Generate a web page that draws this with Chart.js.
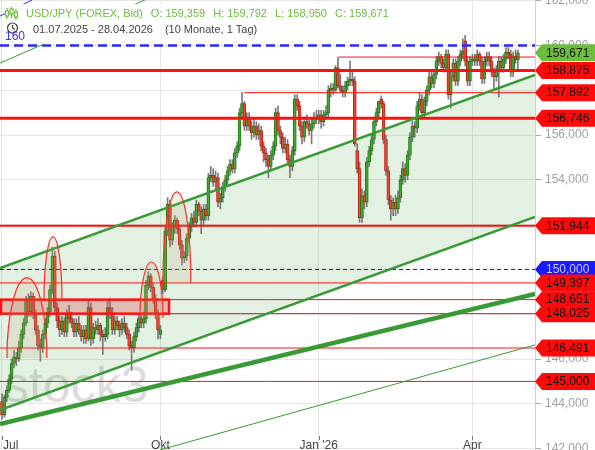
<!DOCTYPE html>
<html><head><meta charset="utf-8">
<script src="https://cdn.jsdelivr.net/npm/chart.js@4/dist/chart.umd.min.js"></script>
<style>html,body{margin:0;padding:0;background:#fff;overflow:hidden}#wrap{width:595px;height:450px;position:relative}</style>
</head><body><div id="wrap"><canvas id="c" width="595" height="450"></canvas></div>
<script>
// ---------- DATA ----------
const monthLabels = ['Jul', 'Okt', "Jan '26", 'Apr'];
const monthIdx = [0, 66, 132, 196];          // weekday index of first trading day of month
const yTicks = [142, 144, 146, 148, 150, 152, 154, 156, 158, 160, 162];

const open = [144.10,143.50,144.30,144.60,145.10,145.80,146.10,146.00,146.50,147.10,147.60,148.60,148.10,148.80,148.00,147.30,146.60,146.50,147.10,147.60,148.10,149.10,150.60,148.30,147.70,147.30,147.70,147.20,148.00,147.80,
147.60,147.20,147.60,147.30,147.00,147.30,146.90,148.30,146.90,147.40,147.30,147.50,147.10,147.00,147.10,148.30,148.00,147.30,147.70,147.50,147.30,147.60,147.40,147.10,146.60,146.50,147.00,147.40,147.80,147.60,
147.80,149.30,149.70,149.20,148.70,148.00,147.10,149.50,149.10,151.70,152.90,151.30,151.90,152.20,151.80,151.10,150.50,150.60,151.40,151.90,152.30,152.10,152.90,152.60,152.20,152.70,152.40,154.10,154.20,153.90,
154.10,153.00,153.20,153.70,154.00,154.40,154.70,154.50,155.20,155.50,157.00,157.40,156.40,156.80,156.40,156.10,156.40,156.00,156.20,155.50,155.20,154.90,154.60,155.10,155.50,157.00,156.20,155.90,155.40,155.60,
154.90,154.60,155.30,157.60,157.30,156.40,155.90,156.60,156.50,156.20,156.50,156.80,156.70,156.90,156.60,156.90,157.00,158.00,158.10,158.00,159.00,158.20,158.00,157.90,158.20,158.40,158.50,158.40,155.30,154.50,
152.30,153.30,153.00,154.80,155.30,155.80,156.60,157.00,157.60,157.40,155.80,154.40,153.10,152.70,153.00,152.70,153.20,154.00,154.50,154.20,155.10,155.90,156.40,156.30,157.30,157.60,157.00,157.50,158.00,158.60,
158.30,158.70,159.30,159.50,159.20,159.00,159.60,157.80,158.60,159.20,158.40,159.30,159.60,160.20,159.30,158.40,159.30,159.40,159.30,159.60,159.30,158.50,159.30,159.50,159.30,158.80,158.60,158.90,159.30,159.00,
159.40,159.70,159.60,158.80,159.50,159.359];
const high = [144.45,144.40,144.80,145.30,146.00,146.40,146.30,146.80,147.30,147.80,148.80,148.90,149.00,148.95,148.20,147.50,146.90,147.30,147.80,148.30,149.30,151.00,150.80,148.50,147.90,147.90,147.85,148.20,148.40,148.10,
147.80,147.80,147.90,147.50,147.50,147.50,148.60,148.50,147.60,147.70,147.80,147.60,147.30,147.40,148.60,148.70,148.30,147.90,147.90,147.70,147.80,147.90,147.60,147.30,146.80,147.20,147.60,148.00,148.00,148.10,
149.50,149.90,149.80,149.40,148.90,148.20,147.50,149.70,151.90,153.20,153.10,152.10,152.40,152.30,152.00,151.30,150.80,151.60,152.10,152.50,152.60,153.10,153.00,152.80,152.90,152.90,154.30,154.60,154.50,154.40,
154.30,153.40,153.90,154.20,154.60,154.90,154.90,155.40,155.70,157.20,157.90,157.50,157.00,157.00,156.60,156.70,156.60,156.50,156.40,155.70,155.40,155.10,155.30,155.70,157.20,157.30,156.40,156.10,155.90,155.80,
155.10,155.50,157.80,157.80,157.50,156.60,156.80,156.90,156.70,156.70,157.00,157.10,157.10,157.10,157.10,157.30,158.20,158.30,158.30,159.10,159.48,158.70,158.20,158.40,158.60,159.30,158.80,158.60,155.60,154.80,
153.60,153.50,155.00,155.50,156.00,156.80,157.20,157.50,157.75,157.50,156.00,154.60,153.30,153.20,153.30,153.50,154.20,154.80,154.70,155.30,156.10,156.60,156.60,157.50,157.90,157.80,157.70,158.20,158.80,158.90,
158.90,159.50,159.70,159.60,159.40,159.80,159.80,158.80,159.40,159.40,159.50,159.80,160.30,160.45,159.50,159.50,159.60,159.60,159.80,159.70,159.50,159.50,159.70,159.70,159.50,159.00,159.10,159.50,159.50,159.60,
159.90,159.90,159.80,159.70,159.80,159.792];
const low = [143.30,143.40,144.10,144.50,144.90,145.60,145.70,145.90,146.30,146.90,147.50,147.90,147.90,147.80,147.10,146.40,145.90,146.30,146.90,147.40,147.90,148.90,148.10,147.40,147.00,147.10,147.00,147.00,147.60,147.40,
147.00,147.00,147.10,146.80,146.70,146.70,146.80,146.60,146.70,147.10,147.10,146.80,146.20,146.80,146.90,147.80,147.10,147.10,147.30,147.00,147.10,147.20,146.90,146.40,145.50,146.30,146.80,147.20,147.40,147.40,
147.60,149.10,149.00,148.50,147.80,146.90,146.90,148.90,149.00,151.50,151.00,151.10,151.60,151.60,150.90,150.20,150.30,150.40,151.20,151.70,151.90,151.90,152.40,151.60,152.00,152.20,152.20,153.90,153.70,153.60,
152.80,152.70,153.00,153.50,153.80,154.20,154.30,154.30,155.00,155.30,156.80,156.20,156.20,156.20,155.80,155.90,155.80,155.80,155.30,154.80,154.60,154.10,154.40,154.90,155.30,156.00,155.60,155.20,155.20,154.70,
154.10,154.40,155.10,157.10,156.20,155.60,155.70,156.30,156.00,155.60,156.30,156.50,156.50,156.30,156.40,156.70,156.80,157.70,157.80,157.90,158.10,157.90,157.70,157.70,158.00,158.20,158.20,155.50,154.30,152.10,
152.10,152.70,152.80,154.60,155.10,155.60,156.40,156.80,157.20,155.60,154.20,152.90,152.20,152.40,152.40,152.50,153.00,153.80,153.90,154.00,154.90,155.70,155.90,156.10,157.10,156.80,156.80,157.30,157.80,158.10,
158.10,158.50,159.10,159.00,158.80,158.90,157.60,157.20,158.40,158.20,158.20,159.10,159.40,159.10,158.20,158.20,159.10,159.10,159.10,159.10,158.30,158.30,159.10,159.10,158.60,158.00,158.40,157.70,158.80,158.80,
159.20,159.40,158.60,158.60,159.20,158.950];
const close = [143.50,144.30,144.60,145.10,145.80,146.10,146.00,146.50,147.10,147.60,148.60,148.10,148.80,148.00,147.30,146.60,146.50,147.10,147.60,148.10,149.10,150.60,148.30,147.70,147.30,147.70,147.20,148.00,147.80,147.60,
147.20,147.60,147.30,147.00,147.30,146.90,148.30,146.90,147.40,147.30,147.50,147.10,147.00,147.10,148.30,148.00,147.30,147.70,147.50,147.30,147.60,147.40,147.10,146.60,146.50,147.00,147.40,147.80,147.60,147.80,
149.30,149.70,149.20,148.70,148.00,147.30,147.30,149.10,151.70,152.90,151.30,151.90,152.20,151.80,151.10,150.50,150.60,151.40,151.90,152.30,152.10,152.90,152.60,152.20,152.70,152.40,154.10,154.20,153.90,154.10,
153.00,153.20,153.70,154.00,154.40,154.70,154.50,155.20,155.50,157.00,157.40,156.40,156.80,156.40,156.10,156.40,156.00,156.20,155.50,155.20,154.90,154.60,155.10,155.50,157.00,156.20,155.90,155.40,155.60,154.90,
154.60,155.30,157.60,157.30,156.40,155.90,156.60,156.50,156.20,156.50,156.80,156.70,156.90,156.60,156.90,157.00,158.00,158.10,158.00,159.00,158.20,158.00,157.90,158.20,158.40,158.50,158.40,155.60,154.50,152.30,
153.30,153.00,154.80,155.30,155.80,156.60,157.00,157.50,157.40,155.80,154.40,153.10,152.70,153.00,152.70,153.20,154.00,154.50,154.20,155.10,155.90,156.40,156.30,157.30,157.60,157.00,157.50,158.00,158.60,158.30,
158.70,159.30,159.50,159.20,159.00,159.60,157.80,158.60,159.20,158.40,159.30,159.60,159.75,159.30,158.40,159.30,159.40,159.30,159.60,159.30,158.50,159.30,159.50,159.30,158.80,158.60,158.90,159.30,159.00,159.40,
159.70,159.60,158.80,159.50,159.36,159.671];

// horizontal support / resistance levels
const redLevels = [158.875, 156.746, 151.944, 149.397, 148.651, 148.025, 146.491, 145.000, 157.892, 159.48];
const redLevelStart = [null, null, null, null, null, null, null, null, 101, 140.4];   // index where a level begins (null = whole width)
const redLevelWidth = [3, 3, 2, 1, 1, 1, 1, 1, 1, 1];
const blueLevels = [160.000, 150.000];
const lastPrice = 159.671;
const tagLevels = [158.875, 157.892, 156.746, 151.944, 150.000, 149.397, 148.651, 148.025, 146.491, 145.000];

// trend lines: [x0, price0, x1, price1]
const channelUpper = [-0.83, 150.06, 222.1, 158.68];
const channelLower = [-0.83, 143.72, 222.1, 152.34];
const longTrend = [-0.83, 143.10, 222.1, 148.90];
const thinTrend = [65.8, 141.94, 222.1, 146.63];
const topGreenTrend = [-0.83, 159.21, 59.6, 162.03];
const topBlueTrend = [-0.83, 161.31, 12.5, 162.03];

// arcs: [centerIdx, basePrice, halfWidthIdx, peakPrice]
const arcs = [[10.4, 146.05, 8.33, 149.62], [21.25, 148.63, 3.75, 151.45], [62.3, 147.83, 4.8, 150.33], [72.9, 149.39, 5.83, 153.46]];
// box zone: [x0, x1, lowPrice, highPrice]
const zone = [-0.83, 69.6, 148.025, 148.651];

const X_MIN = -0.83, X_MAX = 222.1, Y_MIN = 141.938, Y_MAX = 162.027;

// ---------- BUILD ----------
const FONT = '"Liberation Sans", Arial, sans-serif';
const fmt = v => v.toFixed(3).replace('.', ',');
const seg = a => [{x: a[0], y: a[1]}, {x: a[2], y: a[3]}];
const idx = open.map((_, i) => i);
const up = idx.map(i => close[i] >= open[i]);

const datasets = [];
datasets.push({type: 'line', data: seg(channelUpper), borderWidth: 0, pointRadius: 0, fill: 1,
  backgroundColor: 'rgba(70,160,70,0.15)', order: 100});
datasets.push({type: 'line', data: seg(channelLower), borderWidth: 0, pointRadius: 0, fill: false, order: 99});
datasets.push({type: 'bar', data: idx.map(i => ({x: i, y: [low[i], high[i]]})), backgroundColor: '#7a7a7a',
  barThickness: 1, grouped: false, order: 40});
datasets.push({type: 'bar', data: idx.map(i => ({x: i, y: [open[i], close[i]]})),
  backgroundColor: idx.map(i => up[i] ? '#46a832' : '#ea4a32'),
  borderColor: idx.map(i => up[i] ? '#1f7a18' : '#b3261a'),
  borderWidth: 1, borderSkipped: false, barThickness: 3, grouped: false, order: 39});
redLevels.forEach((v, k) => {
  datasets.push({type: 'line', data: [{x: redLevelStart[k] === null ? X_MIN : redLevelStart[k], y: v}, {x: X_MAX, y: v}],
    borderColor: '#ff1010', borderWidth: redLevelWidth[k], pointRadius: 0, fill: false, order: 10});
});
datasets.push({type: 'line', data: [{x: X_MIN, y: blueLevels[0]}, {x: X_MAX, y: blueLevels[0]}], borderColor: '#2a2aff',
  borderWidth: 2.5, borderDash: [9, 5], pointRadius: 0, fill: false, order: 10});
datasets.push({type: 'line', data: [{x: X_MIN, y: blueLevels[1]}, {x: X_MAX, y: blueLevels[1]}], borderColor: '#1a1a9a',
  borderWidth: 1, borderDash: [4, 3], pointRadius: 0, fill: false, order: 10});
[[channelUpper, 2.5], [channelLower, 2.5], [longTrend, 4.5], [thinTrend, 1], [topGreenTrend, 1]].forEach(([t, w]) => {
  datasets.push({type: 'line', data: seg(t), borderColor: '#379a34', borderWidth: w, pointRadius: 0, fill: false, order: 5});
});
datasets.push({type: 'line', data: seg(topBlueTrend), borderColor: '#2a2aff', borderWidth: 1, pointRadius: 0, fill: false, order: 5});

const decor = {
  id: 'decor',
  beforeDatasetsDraw(chart) {
    const {ctx} = chart;
    ctx.save();
    ctx.font = '50px ' + FONT;
    ctx.fillStyle = 'rgba(150,150,150,0.33)';
    ctx.textBaseline = 'alphabetic';
    ctx.fillText('stock3', 4, 402);
    ctx.restore();
  },
  afterDatasetsDraw(chart) {
    const {ctx, chartArea: a, scales: {x, y}} = chart;
    ctx.save();
    ctx.beginPath(); ctx.rect(a.left, a.top, a.right - a.left, a.bottom - a.top); ctx.clip();
    // zone box
    const zx0 = x.getPixelForValue(zone[0]), zx1 = x.getPixelForValue(zone[1]);
    const zy0 = y.getPixelForValue(zone[3]), zy1 = y.getPixelForValue(zone[2]);
    ctx.fillStyle = 'rgba(215,70,70,0.30)';
    ctx.fillRect(zx0, zy0, zx1 - zx0, zy1 - zy0);
    ctx.strokeStyle = '#ff1010'; ctx.lineWidth = 2.5;
    ctx.strokeRect(zx0 + 1, zy0, zx1 - zx0 - 1, zy1 - zy0);
    // arcs
    arcs.forEach(([c, b, hw, pk]) => {
      const cx = x.getPixelForValue(c), by = y.getPixelForValue(b);
      const rx = x.getPixelForValue(c + hw) - cx, ry = by - y.getPixelForValue(pk);
      ctx.beginPath();
      ctx.ellipse(cx, by, rx, ry, 0, Math.PI, 2 * Math.PI);
      ctx.fillStyle = 'rgba(190,160,110,0.18)';
      ctx.fill();
      ctx.strokeStyle = '#ff2a2a'; ctx.lineWidth = 1.2;
      ctx.stroke();
    });
    ctx.restore();
  },
  afterDraw(chart) {
    const {ctx, chartArea: a, scales: {x, y}} = chart;
    ctx.save();
    // x-axis month labels (drawn inside the plot bottom)
    ctx.font = '12px ' + FONT; ctx.fillStyle = '#444'; ctx.textBaseline = 'alphabetic';
    monthIdx.forEach((v, k) => {
      const px = x.getPixelForValue(v);
      ctx.strokeStyle = '#777'; ctx.lineWidth = 1;
      ctx.beginPath(); ctx.moveTo(Math.round(px) + 0.5, 436); ctx.lineTo(Math.round(px) + 0.5, 440); ctx.stroke();
      const w = ctx.measureText(monthLabels[k]).width;
      const lx = Math.max(px - w / 2, px);
      ctx.textAlign = 'left';
      ctx.fillText(monthLabels[k], k === 0 ? px + 1 : px - w / 2, 449);
    });
    // price tags
    const tag = (v, bg, fg) => {
      const py = y.getPixelForValue(v);
      ctx.fillStyle = bg;
      ctx.beginPath();
      ctx.moveTo(535, py); ctx.lineTo(542, py - 8.5); ctx.lineTo(595, py - 8.5);
      ctx.lineTo(595, py + 8.5); ctx.lineTo(542, py + 8.5); ctx.closePath(); ctx.fill();
      ctx.fillStyle = fg; ctx.font = '12px ' + FONT;
      ctx.textBaseline = 'middle'; ctx.textAlign = 'left';
      ctx.fillText(fmt(v), 546, py + 0.5);
    };
    tagLevels.forEach(v => v === 150 ? tag(v, '#1a1aff', '#c8c8e8') : tag(v, '#ff0a0a', '#111'));
    tag(lastPrice, '#6cbd3c', '#1a1a1a');
    // legend box
    ctx.fillStyle = 'rgba(255,255,255,0.92)';
    ctx.fillRect(9, 4, 420, 40);
    ctx.font = '12px ' + FONT; ctx.textAlign = 'left';
    ctx.fillStyle = '#3030ff'; ctx.textBaseline = 'alphabetic';
    ctx.fillText('160', 5, 40);
    // icon 1
    ctx.strokeStyle = '#6cbd3c'; ctx.fillStyle = '#fff'; ctx.lineWidth = 1.2;
    [[7, 8, 19, 11, 16], [11.5, 7, 18, 9, 14], [16, 9, 20, 12, 17]].forEach(([cx, t, b, bt, bb]) => {
      ctx.beginPath(); ctx.moveTo(cx, t); ctx.lineTo(cx, b); ctx.stroke();
      ctx.fillRect(cx - 1.5, bt, 3, bb - bt); ctx.strokeRect(cx - 1.5, bt, 3, bb - bt);
    });
    ctx.font = '11px ' + FONT;
    ctx.fillStyle = '#6cbd3c';
    let xx = 26;
    ['USD/JPY (FOREX, Bid)', 'O: 159,359', 'H: 159,792', 'L: 158,950', 'C: 159,671'].forEach(s => {
      ctx.fillText(s, xx, 17); xx += ctx.measureText(s).width + 8;
    });
    // clock icon
    ctx.strokeStyle = '#444'; ctx.lineWidth = 1.2;
    ctx.beginPath(); ctx.arc(12.5, 28, 5, 0, 2 * Math.PI); ctx.stroke();
    ctx.beginPath(); ctx.moveTo(12.5, 25); ctx.lineTo(12.5, 28); ctx.lineTo(15, 29.5); ctx.stroke();
    ctx.fillStyle = '#444';
    ctx.fillText('01.07.2025 - 28.04.2026', 33, 33);
    ctx.fillText('(10 Monate, 1 Tag)', 33 + ctx.measureText('01.07.2025 - 28.04.2026').width + 12, 33);
    ctx.restore();
  }
};

new Chart(document.getElementById('c'), {
  type: 'bar',
  data: {datasets},
  options: {
    responsive: false, animation: false, devicePixelRatio: 1,
    layout: {padding: 0},
    plugins: {legend: {display: false}, tooltip: {enabled: false}},
    scales: {
      x: {
        type: 'linear', min: X_MIN, max: X_MAX, offset: false,
        afterBuildTicks: s => { s.ticks = monthIdx.map(v => ({value: v})); },
        afterFit: s => { s.height = 0; s.paddingLeft = 0; s.paddingRight = 0; },
        grid: {color: '#e4e4e4', drawTicks: false, offset: false},
        border: {display: false},
        ticks: {display: false}
      },
      y: {
        type: 'linear', position: 'right', min: Y_MIN, max: Y_MAX,
        afterBuildTicks: s => { s.ticks = yTicks.map(v => ({value: v})); },
        afterFit: s => { s.width = 60; s.paddingTop = 0; s.paddingBottom = 0; },
        grid: {color: '#e6e6e6', tickColor: '#aaa', tickLength: 6, drawTicks: true},
        border: {display: true, color: '#d0d0d0'},
        ticks: {padding: 4, color: '#a0a0a0', font: {size: 12, family: FONT},
          callback: v => fmt(v)}
      }
    }
  },
  plugins: [decor]
});
</script>
</body></html>
